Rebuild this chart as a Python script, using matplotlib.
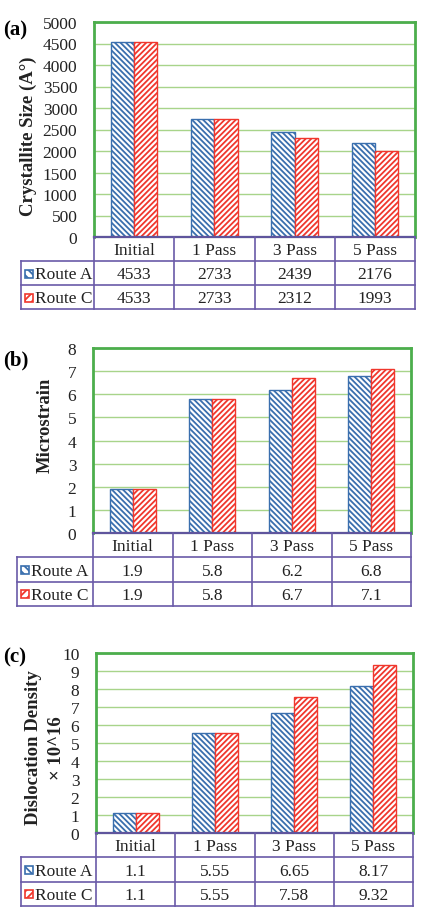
import matplotlib
matplotlib.use("agg")
import matplotlib.pyplot as plt
import numpy as np
from matplotlib.patches import Rectangle

W, H = 422, 912

categories = ["Initial", "1 Pass", "3 Pass", "5 Pass"]
routes = ["Route A", "Route C"]

size_a = [4533, 2733, 2439, 2176]
size_c = [4533, 2733, 2312, 1993]
strain_a = [1.9, 5.8, 6.2, 6.8]
strain_c = [1.9, 5.8, 6.7, 7.1]
disloc_a = [1.1, 5.55, 6.65, 8.17]
disloc_c = [1.1, 5.55, 7.58, 9.32]

size_ticks = np.arange(0, 5001, 500)
strain_ticks = np.arange(0, 9, 1)
disloc_ticks = np.arange(0, 11, 1)

BLUE = "#3a6fae"
RED = "#f0372d"
FRAME = "#4cae4c"
GRID = "#a8d48a"
TABLE = "#6a5aa8"
AXIS = "#2e3d6b"
TEXT = "#222222"
SERIF = "Liberation Serif"

plt.rcParams["font.family"] = SERIF
plt.rcParams["hatch.linewidth"] = 1.3


def fig_box(x0, y0, x1, y1):
    return [x0 / W, 1 - y1 / H, (x1 - x0) / W, (y1 - y0) / H]


def draw_panel(fig, letter, ylabel, a_vals, c_vals, ticks, plot_box,
               table_left, row_bottoms, label_x, label_y, letter_y):
    x0, y0, x1, y1 = plot_box
    ax = fig.add_axes(fig_box(x0, y0, x1, y1))
    x = np.arange(len(categories))
    width = 0.29
    ax.bar(x - width / 2, a_vals, width, color="white", edgecolor=BLUE,
           hatch="\\" * 6, linewidth=1.0, zorder=3)
    ax.bar(x + width / 2, c_vals, width, color="white", edgecolor=RED,
           hatch="/" * 6, linewidth=1.0, zorder=3)
    ax.set_xlim(-0.5, len(categories) - 0.5)
    ax.set_ylim(ticks[0], ticks[-1])
    ax.set_yticks(ticks)
    ax.set_xticks([])
    ax.tick_params(axis="y", length=0, pad=12, labelsize=12.5,
                   labelcolor=TEXT)
    ax.yaxis.grid(True, color=GRID, linewidth=1.0, zorder=0)
    ax.set_axisbelow(True)
    for side in ["top", "left", "right"]:
        ax.spines[side].set_color(FRAME)
        ax.spines[side].set_linewidth(2.0)
    ax.spines["bottom"].set_color(AXIS)
    ax.spines["bottom"].set_linewidth(1.6)
    ax.spines["bottom"].set_zorder(5)

    # data table under the plot
    col_w = (x1 - x0) / len(categories)
    left = -0.5 - (x0 - table_left) / col_w
    tab = fig.add_axes(fig_box(table_left, y1, x1, row_bottoms[-1]))
    tab.set_xlim(left, len(categories) - 0.5)
    tab.set_ylim(3, 0)
    tab.axis("off")
    lw = 1.2
    edges = np.arange(len(categories) + 1) - 0.5
    for e in edges:
        tab.plot([e, e], [0, 3], color=TABLE, lw=lw, clip_on=False)
    tab.plot([left, left], [1, 3], color=TABLE, lw=lw, clip_on=False)
    tab.plot([edges[0], edges[-1]], [0, 0], color=TABLE, lw=lw, clip_on=False)
    for r in [1, 2, 3]:
        tab.plot([left, edges[-1]], [r, r], color=TABLE, lw=lw, clip_on=False)
    for i, cat in enumerate(categories):
        tab.text(i, 0.55, cat, ha="center", va="center", fontsize=12.5,
                 color=TEXT)
    tops = [y1] + list(row_bottoms[:-1])
    for r, (vals, name, color, hatch) in enumerate(
            [(a_vals, routes[0], BLUE, "\\" * 4),
             (c_vals, routes[1], RED, "/" * 4)], start=1):
        for i, v in enumerate(vals):
            tab.text(i, r + 0.55, f"{v:g}", ha="center", va="center",
                     fontsize=12.5, color=TEXT)
        tab.text(left + 14 / col_w, r + 0.55, name, ha="left", va="center",
                 fontsize=12.5, color=TEXT)
        cy = (tops[r] + row_bottoms[r]) / 2
        fig.add_artist(Rectangle(((table_left + 4) / W, 1 - (cy + 4) / H),
                                 8 / W, 8 / H, transform=fig.transFigure,
                                 facecolor="white", edgecolor=color,
                                 hatch=hatch, linewidth=1.2))

    fig.text(3 / W, 1 - letter_y / H, f"({letter})", fontsize=15,
             fontweight="bold", ha="left", va="center")
    fig.text(label_x / W, 1 - label_y / H, ylabel, fontsize=13.5,
             fontweight="bold", rotation=90, ha="center", va="center",
             multialignment="center", linespacing=1.5, color=TEXT)
    return ax


fig = plt.figure(figsize=(W / 100, H / 100), dpi=100)

draw_panel(fig, "a", "Crystallite Size (A°)", size_a, size_c, size_ticks,
           (94, 23, 415, 238), 21, [262, 287, 310], 28, 136, 30)
draw_panel(fig, "b", "Microstrain", strain_a, strain_c, strain_ticks,
           (93, 349, 411, 534), 17, [558, 583, 607], 45, 425, 360)
draw_panel(fig, "c", "Dislocation Density\n× 10^16", disloc_a, disloc_c,
           disloc_ticks, (96, 654, 413, 834), 21, [858, 883, 907], 45, 748,
           657)

fig.savefig("out.png", dpi=100)
